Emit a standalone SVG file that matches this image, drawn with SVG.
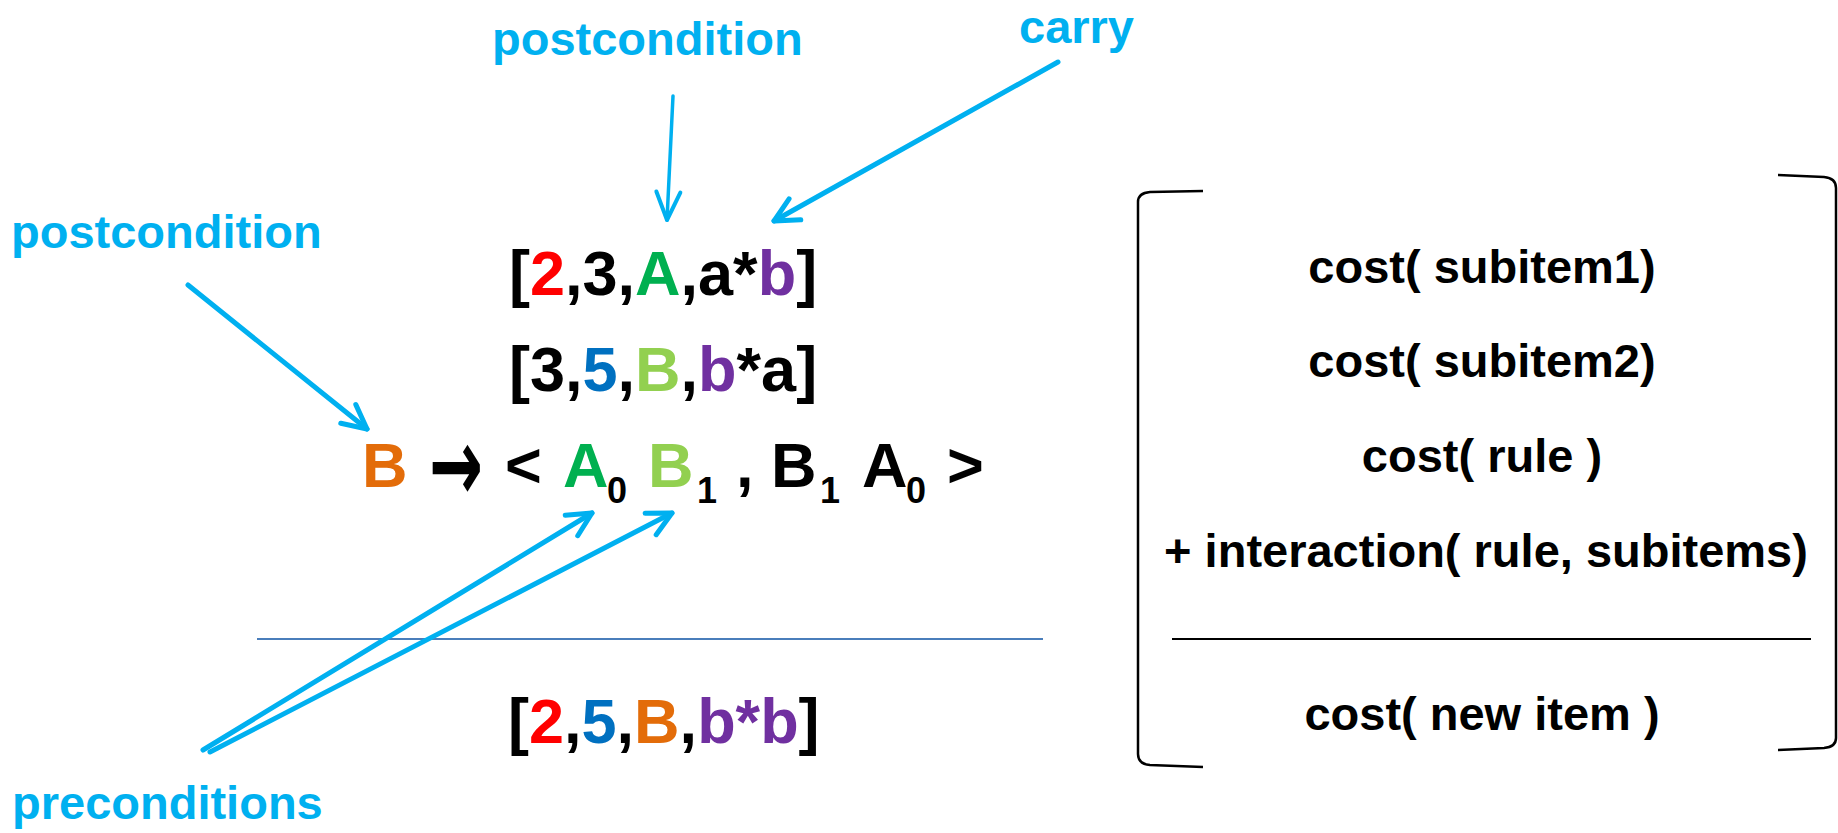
<svg xmlns="http://www.w3.org/2000/svg" width="1838" height="833" viewBox="0 0 1838 833">
<defs>
<style>
text{font-family:"Liberation Sans",Arial,sans-serif;font-weight:bold;}
.lbl{fill:#00B0F0;font-size:47px;}
.item{fill:#000;font-size:63px;}
.cost{fill:#000;font-size:47px;text-anchor:middle;}
.sub{font-size:36px;}
.red{fill:#FF0000;}
.grn{fill:#00B050;}
.lgr{fill:#92D050;}
.blu{fill:#0070C0;}
.pur{fill:#7030A0;}
.org{fill:#E36C09;}
.sym{font-family:"DejaVu Sans",sans-serif;font-size:104px;fill:#000;}
.arr{stroke:#00B0F0;fill:none;stroke-linecap:round;}
</style>
<marker id="ah" markerUnits="userSpaceOnUse" markerWidth="60" markerHeight="60" viewBox="-40 -30 60 60" refX="0" refY="0" orient="auto">
<path d="M-24,-12 L0,0 L-24,12" fill="none" stroke="#00B0F0" stroke-width="5" stroke-linecap="round" stroke-linejoin="round"/>
</marker>
<marker id="ahs" markerUnits="userSpaceOnUse" markerWidth="60" markerHeight="60" viewBox="-40 -30 60 60" refX="0" refY="0" orient="auto">
<path d="M-28,-12 L0,0 L-28,12" fill="none" stroke="#00B0F0" stroke-width="4" stroke-linecap="round" stroke-linejoin="round"/>
</marker>
</defs>

<g id="label-postcondition-top"><text class="lbl" x="492" y="55">postcondition</text></g>
<g id="label-carry"><text class="lbl" x="1019" y="43">carry</text></g>
<g id="label-postcondition-left"><text class="lbl" x="11" y="248">postcondition</text></g>
<g id="label-preconditions"><text class="lbl" x="12" y="819">preconditions</text></g>

<g id="item1"><text class="item" x="509" y="295">[<tspan class="red">2</tspan>,3,<tspan class="grn">A</tspan>,a*<tspan class="pur">b</tspan>]</text></g>
<g id="item2"><text class="item" x="509" y="391">[3,<tspan class="blu">5</tspan>,<tspan class="lgr">B</tspan>,<tspan class="pur">b</tspan>*a]</text></g>
<g id="rule">
<text class="item" y="487"><tspan class="org" x="362">B</tspan><tspan x="505">&lt;</tspan><tspan class="grn" x="563">A</tspan><tspan class="sub" x="607" y="503">0</tspan><tspan class="lgr" x="648" y="487">B</tspan><tspan class="sub" x="697" y="503">1</tspan><tspan x="736" y="487">,</tspan><tspan x="771">B</tspan><tspan class="sub" x="820" y="503">1</tspan><tspan x="862" y="487">A</tspan><tspan class="sub" x="906" y="503">0</tspan><tspan x="947" y="487">&gt;</tspan></text>
<text class="sym" transform="translate(429,501) scale(0.62,1)">→</text>
</g>
<g id="divider-left"><line x1="257" y1="639" x2="1043" y2="639" stroke="#4A7EBB" stroke-width="2"/></g>
<g id="item-new"><text class="item" x="508" y="743">[<tspan class="red">2</tspan>,<tspan class="blu">5</tspan>,<tspan class="org">B</tspan>,<tspan class="pur">b*b</tspan>]</text></g>

<g id="cost-box">
<path d="M1203,191 L1150,192 Q1138,193 1138,202 L1138,754 Q1138,764 1150,765 L1203,767" fill="none" stroke="#000" stroke-width="2.5"/>
<path d="M1778,175 L1824,177 Q1836,178 1836,188 L1836,738 Q1836,747 1824,748 L1778,750" fill="none" stroke="#000" stroke-width="2.5"/>
<text class="cost" x="1482" y="283">cost( subitem1)</text>
<text class="cost" x="1482" y="377">cost( subitem2)</text>
<text class="cost" x="1482" y="472">cost( rule )</text>
<text class="cost" x="1486" y="567">+ interaction( rule, subitems)</text>
<line x1="1172" y1="639" x2="1811" y2="639" stroke="#000" stroke-width="2"/>
<text class="cost" x="1482" y="730">cost( new item )</text>
</g>

<g id="connectors">
<line class="arr" x1="673" y1="96" x2="667" y2="220" stroke-width="3.5" marker-end="url(#ahs)"/>
<line class="arr" x1="1058" y1="62" x2="774" y2="221" stroke-width="5" marker-end="url(#ah)"/>
<line class="arr" x1="188" y1="285" x2="367" y2="429" stroke-width="5" marker-end="url(#ah)"/>
<line class="arr" x1="203" y1="750" x2="592" y2="513" stroke-width="5" marker-end="url(#ah)"/>
<line class="arr" x1="210" y1="752" x2="672" y2="513" stroke-width="5" marker-end="url(#ah)"/>
</g>
</svg>
